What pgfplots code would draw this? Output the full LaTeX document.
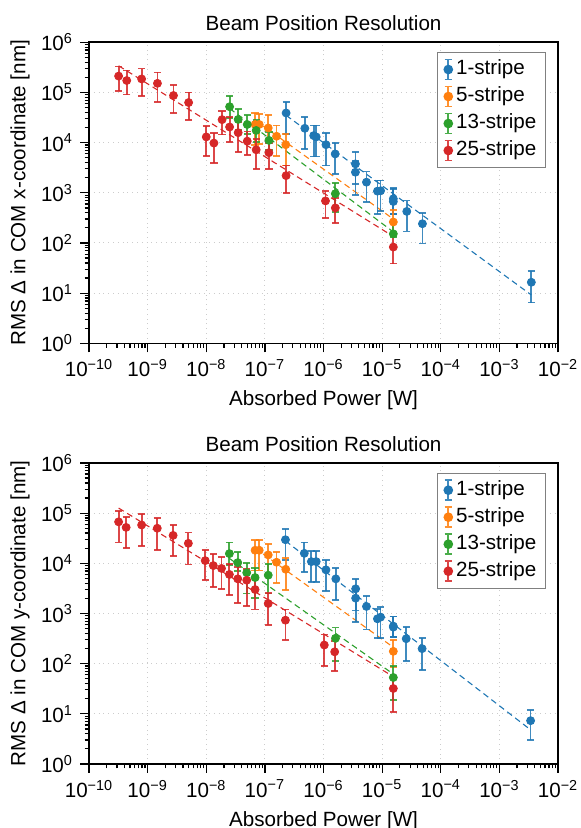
\documentclass[border=0pt]{standalone}
\usepackage{fontspec}
\setmainfont{Liberation Sans}
\usepackage{pgfplots}
\pgfplotsset{compat=1.18}
\usepackage{pgfplotstable}

\definecolor{c1}{HTML}{1F77B4}
\definecolor{c2}{HTML}{FF7F0E}
\definecolor{c3}{HTML}{2CA02C}
\definecolor{c4}{HTML}{D62728}

% x y lo hi  (lo/hi = ends of the error bar)
\pgfplotstableread{
x y lo hi
2.3e-7 3.9e4 1.5e4 6.5e4
4.8e-7 1.93e4 7.4e3 3.2e4
6.8e-7 1.38e4 5.3e3 2.2e4
7.5e-7 1.3e4 5.3e3 2.2e4
1.1e-6 9.1e3 3.5e3 1.55e4
1.58e-6 5.96e3 2.4e3 9.8e3
3.5e-6 3.77e3 1.5e3 6.4e3
3.5e-6 2.57e3 9.0e2 4.3e3
5.4e-6 1.63e3 6.5e2 2.65e3
8.3e-6 1.08e3 3.8e2 1.76e3
9.4e-6 1.1e3 4.3e2 1.76e3
1.55e-5 7.6e2 3.8e2 1.26e3
1.55e-5 6.7e2 3.8e2 1.2e3
2.63e-5 4.26e2 1.7e2 7.0e2
4.86e-5 2.42e2 9.8e1 4.0e2
3.5e-3 1.65e1 6.5 2.75e1
}\topA
\pgfplotstableread{
x y lo hi
6.8e-8 2.3e4 9.0e3 3.9e4
8.0e-8 2.3e4 9.5e3 3.7e4
1.14e-7 1.96e4 1.1e4 3.5e4
1.58e-7 1.34e4 5.4e3 2.2e4
2.27e-7 9.1e3 3.5e3 1.5e4
1.55e-5 2.62e2 1.55e2 4.5e2
}\topB
\pgfplotstableread{
x y lo hi
2.5e-8 5.2e4 3.1e4 8.5e4
3.5e-8 2.9e4 1.77e4 4.6e4
5.0e-8 2.3e4 1.5e4 3.5e4
7.1e-8 1.75e4 1.03e4 2.8e4
1.17e-7 1.11e4 7.1e3 1.63e4
1.59e-6 9.6e2 4.2e2 1.56e3
1.55e-5 1.52e2 1.3e2 2.6e2
}\topC
\pgfplotstableread{
x y lo hi
3.2e-10 2.12e5 1.07e5 3.3e5
4.4e-10 1.73e5 9.1e4 2.75e5
7.9e-10 1.86e5 8.5e4 3.0e5
1.47e-9 1.52e5 6.4e4 2.5e5
2.76e-9 8.7e4 3.9e4 1.4e5
5.0e-9 6.3e4 2.85e4 1.0e5
1.0e-8 1.3e4 5.4e3 2.15e4
1.35e-8 9.8e3 4.0e3 1.57e4
1.86e-8 2.87e4 1.45e4 4.2e4
2.5e-8 2.05e4 1.02e4 3.2e4
3.5e-8 1.58e4 6.5e3 2.6e4
5.0e-8 1.07e4 5.6e3 1.66e4
7.1e-8 7.2e3 3.0e3 1.2e4
1.17e-7 6.3e3 2.95e3 1.0e4
2.3e-7 2.2e3 1.0e3 3.5e3
1.08e-6 6.9e2 3.1e2 1.07e3
1.59e-6 5.0e2 2.5e2 7.9e2
1.55e-5 8.3e1 3.9e1 1.5e2
}\topD

\pgfplotstableread{
x y lo hi
2.24e-7 2.95e4 1.15e4 4.8e4
4.7e-7 1.58e4 6.6e3 2.6e4
6.2e-7 1.08e4 4.3e3 1.78e4
7.5e-7 1.08e4 4.3e3 1.78e4
1.1e-6 7.4e3 2.8e3 1.17e4
1.62e-6 4.9e3 1.86e3 8.2e3
3.53e-6 3.1e3 1.15e3 4.9e3
3.53e-6 2.02e3 6.7e2 3.1e3
5.4e-6 1.38e3 4.8e2 2.2e3
8.3e-6 7.83e2 3.3e2 1.23e3
9.4e-6 8.45e2 3.3e2 1.33e3
1.55e-5 5.6e2 3.4e2 8.7e2
1.55e-5 5.35e2 3.4e2 8.7e2
2.57e-5 3.14e2 1.15e2 5.35e2
4.8e-5 1.99e2 7.4e1 3.3e2
3.4e-3 7.3 3.0 12.0
}\botA
\pgfplotstableread{
x y lo hi
6.8e-8 1.82e4 7.2e3 2.9e4
8.0e-8 1.82e4 7.2e3 2.9e4
1.14e-7 1.47e4 5.9e3 2.4e4
1.58e-7 1.05e4 4.0e3 1.71e4
2.27e-7 7.6e3 2.95e3 1.26e4
1.55e-5 1.76e2 8.7e1 2.95e2
}\botB
\pgfplotstableread{
x y lo hi
2.48e-8 1.56e4 9.3e3 2.6e4
3.44e-8 1.03e4 7.1e3 1.7e4
4.9e-8 6.5e3 2.5e3 1.02e4
6.8e-8 5.2e3 2.0e3 8.1e3
1.14e-7 5.8e3 2.5e3 9.8e3
1.6e-6 3.2e2 1.12e2 5.25e2
1.55e-5 5.3e1 1.86e1 8.9e1
}\botC
\pgfplotstableread{
x y lo hi
3.2e-10 6.7e4 2.6e4 1.1e5
4.3e-10 5.2e4 2.0e4 8.5e4
7.9e-10 5.8e4 2.25e4 9.5e4
1.46e-9 5.0e4 1.86e4 8.1e4
2.72e-9 3.6e4 1.41e4 5.9e4
4.95e-9 2.5e4 9.5e3 4.1e4
9.6e-9 1.13e4 4.7e3 1.82e4
1.32e-8 9.0e3 3.4e3 1.51e4
1.82e-8 7.9e3 3.1e3 1.35e4
2.48e-8 6.0e3 2.3e3 9.8e3
3.44e-8 4.9e3 1.6e3 8.5e3
4.9e-8 4.6e3 1.4e3 7.6e3
6.8e-8 3.0e3 1.2e3 5.0e3
1.14e-7 1.58e3 5.8e2 2.6e3
2.24e-7 7.35e2 3.0e2 1.2e3
1.03e-6 2.35e2 9.1e1 3.8e2
1.55e-6 1.72e2 7.1e1 2.8e2
1.55e-5 3.2e1 1.1e1 5.75e1
}\botD

\pgfplotsset{
  errpts/.style={
    #1, only marks, mark=*, mark size=2pt,
    mark options={solid, fill=#1, draw=#1},
    legend image code/.code={
      \draw[#1, line width=0.9pt, opacity=0.85]
        (0.2cm,-5pt)--(0.2cm,5pt)
        (0.2cm-1.8pt,-5pt)--(0.2cm+1.8pt,-5pt)
        (0.2cm-1.8pt,5pt)--(0.2cm+1.8pt,5pt);
      \fill[#1] (0.2cm,0pt) circle (2.1pt);},
    error bars/y dir=both, error bars/y explicit,
    error bars/error bar style={#1, line width=0.9pt, opacity=0.85},
    error bars/error mark options={#1, rotate=90, mark size=1.8pt, line width=0.9pt, opacity=0.85},
  },
  fitline/.style={#1, densely dashed, line width=0.55pt, forget plot},
}

\newcommand{\errtable}[2]{\addplot[errpts=#1] table[x=x, y=y,
  y error plus expr=\thisrow{hi}-\thisrow{y},
  y error minus expr=\thisrow{y}-\thisrow{lo}] {#2};}

\begin{document}
\begin{tikzpicture}
\useasboundingbox (-44.5pt,-32pt) rectangle (245.5pt,381.95pt);
\pgfplotsset{
  every axis/.append style={
    scale only axis, width=234.5pt, height=150.5pt,
    xmin=1e-10, xmax=1e-2, ymin=1, ymax=1e6,
    xtick={1e-10,1e-9,1e-8,1e-7,1e-6,1e-5,1e-4,1e-3,1e-2},
    xticklabels={10\textsuperscript{−10},10\textsuperscript{−9},10\textsuperscript{−8},10\textsuperscript{−7},10\textsuperscript{−6},10\textsuperscript{−5},10\textsuperscript{−4},10\textsuperscript{−3},10\textsuperscript{−2}},
    ytick={1,10,100,1000,10000,100000,1000000},
    yticklabels={10\textsuperscript{0},10\textsuperscript{1},10\textsuperscript{2},10\textsuperscript{3},10\textsuperscript{4},10\textsuperscript{5},10\textsuperscript{6}},
    log identify minor tick positions=true,
    tick pos=left, tick align=outside,
    major tick length=4.5pt, minor tick length=2.2pt,
    every tick/.style={black, line width=0.6pt},
    axis line style={line width=0.8pt},
    grid=major, grid style={dotted, black!20, line width=0.5pt},
    ticklabel style={font=\fontsize{10.3}{12}\selectfont},
    every axis title/.style={at={(axis description cs:0.5,1)}, yshift=9.65pt, anchor=center, font=\fontsize{10.3}{12}\selectfont},
    every axis x label/.style={at={(axis description cs:0.5,0)}, yshift=-28.5pt, anchor=center, font=\fontsize{10.3}{12}\selectfont},
    every axis y label/.style={at={(axis description cs:-0.147,0.5)}, rotate=90, anchor=center, font=\fontsize{10.3}{12}\selectfont},
    title={Beam Position Resolution},
    xlabel={Absorbed Power [W]},
    legend style={at={(axis description cs:0.974,0.968)}, anchor=north east,
      draw=black!50, line width=0.6pt, fill=white,
      font=\fontsize{10.3}{12}\selectfont,
      inner xsep=3pt, inner ysep=2pt, row sep=0.5pt,
      nodes={inner sep=1.5pt, text height=7.6pt, text depth=2.4pt}},
    legend cell align=left,
  },
}

\begin{loglogaxis}[at={(0pt,210.3pt)}, anchor=south west,
  ylabel={RMS Δ in COM x-coordinate [nm]}]
\addplot[fitline=c1] coordinates {(2.3e-7,3.5e4) (3.5e-3,9.2)};
\addplot[fitline=c2] coordinates {(6.8e-8,2.8e4) (1.55e-5,3.0e2)};
\addplot[fitline=c3] coordinates {(2.5e-8,4.8e4) (1.55e-5,1.66e2)};
\addplot[fitline=c4] coordinates {(3.2e-10,3.4e5) (1.55e-5,1.35e2)};
\errtable{c1}{\topA}
\errtable{c2}{\topB}
\errtable{c3}{\topC}
\errtable{c4}{\topD}
\legend{1-stripe, 5-stripe, 13-stripe, 25-stripe}
\end{loglogaxis}

\begin{loglogaxis}[at={(0pt,0pt)}, anchor=south west,
  ylabel={RMS Δ in COM y-coordinate [nm]}]
\addplot[fitline=c1] coordinates {(2.24e-7,2.8e4) (3.4e-3,4.8)};
\addplot[fitline=c2] coordinates {(6.8e-8,2.0e4) (1.55e-5,2.12e2)};
\addplot[fitline=c3] coordinates {(2.48e-8,1.25e4) (1.55e-5,6.2e1)};
\addplot[fitline=c4] coordinates {(3.2e-10,1.26e5) (1.55e-5,5.5e1)};
\errtable{c1}{\botA}
\errtable{c2}{\botB}
\errtable{c3}{\botC}
\errtable{c4}{\botD}
\legend{1-stripe, 5-stripe, 13-stripe, 25-stripe}
\end{loglogaxis}
\end{tikzpicture}
\end{document}
